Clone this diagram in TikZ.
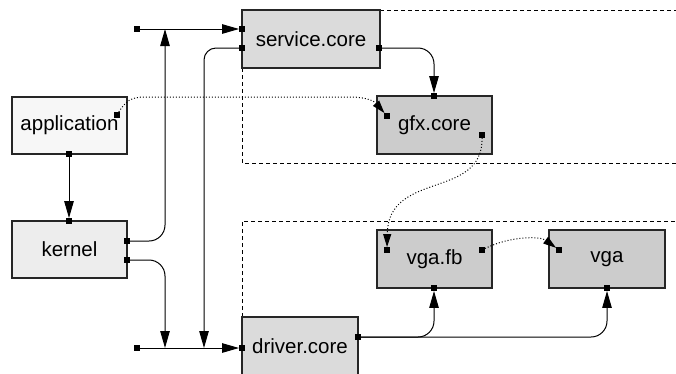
\documentclass[tikz,border=0pt]{standalone}
\usepackage{fontspec}
\setmainfont{Liberation Sans}
\usetikzlibrary{arrows.meta}
\begin{document}
\begin{tikzpicture}[x=1pt,y=-1pt,
  box/.style={draw=black!85,line width=1.5pt,minimum width=115pt,minimum height=57pt,inner sep=0pt,font=\fontsize{20.5}{24}\selectfont},
  port/.style={fill=black,inner sep=0pt,minimum size=5.5pt},
  conn/.style={line width=1pt,-{Triangle[length=17pt,width=9.5pt]}},
  dots/.style={line width=1pt,dotted,-{Triangle[length=13pt,width=8pt]}},
  region/.style={line width=0.9pt,dash pattern=on 4pt off 3pt}]
\useasboundingbox (0,0) rectangle (676,373);
% regions
\coordinate (r1a) at (380,10); \coordinate (r1b) at (676,10);
\coordinate (r1c) at (242,68); \coordinate (r1d) at (242,163); \coordinate (r1e) at (676,163);
\coordinate (r2a) at (242,317); \coordinate (r2b) at (242,221); \coordinate (r2c) at (676,221);
\draw[region] (r1a) -- (r1b);
\draw[region] (r1c) -- (r1d) -- (r1e);
\draw[region] (r2a) -- (r2b) -- (r2c);
% boxes
\node[box,fill=black!3] (app) at (69.5,125.5) {application};
\node[box,fill=black!7] (ker) at (69.5,249.5) {kernel};
\node[box,fill=black!14,minimum width=138pt,minimum height=58pt] (svc) at (311,39) {service.core};
\node[box,fill=black!20,minimum height=58pt] (gfx) at (434.5,125) {gfx.core};
\node[box,fill=black!20,minimum height=58pt] (vfb) at (434.5,259) {vga.fb};
\node[box,fill=black!20,minimum width=116pt,minimum height=58pt] (vga) at (607,259) {vga};
\node[box,fill=black!14,minimum width=116pt,minimum height=58pt] (drv) at (300,346) {driver.core};
% ports
\node[port] (b1) at (137,29) {};
\node[port] (s1) at (242,29) {};
\node[port] (s2) at (242,48) {};
\node[port] (s3) at (379,48) {};
\node[port] (a1) at (117,115) {};
\node[port] (a2) at (69,154) {};
\node[port] (k0) at (69,221) {};
\node[port] (k1) at (127,241) {};
\node[port] (k2) at (127,260) {};
\node[port] (g0) at (434,96) {};
\node[port] (g1) at (387,116) {};
\node[port] (g2) at (482,135) {};
\node[port] (f1) at (387,250) {};
\node[port] (f2) at (482,250) {};
\node[port] (f3) at (434,288) {};
\node[port] (v1) at (559,250) {};
\node[port] (v2) at (607,288) {};
\node[port] (b2) at (137,348) {};
\node[port] (d1) at (242,348) {};
\node[port] (d2) at (358,337) {};
% bus junctions
\coordinate (j1) at (165,29);
\coordinate (j2) at (165,348);
\coordinate (j3) at (204,348);
% connectors
\draw[conn] (b1) -- (s1);
\draw[conn] (b2) -- (d1);
\draw[conn] (a2) -- (k0);
\draw[conn,rounded corners=16pt] (k1) -| (j1);
\draw[conn,rounded corners=16pt] (k2) -| (j2);
\draw[conn,rounded corners=12pt] (s2) -| (j3);
\draw[conn,rounded corners=16pt] (s3) -| (g0);
\draw[conn,rounded corners=16pt] (d2) -| (f3);
\draw[conn,rounded corners=16pt] (d2) -| (v2);
\draw[dots] (a1) .. controls (128,97) and (135,97) .. (150,97) -- (350,97) .. controls (368,97) and (375,102) .. (g1);
\draw[dots] (g2) .. controls (483,200) and (388,170) .. (f1);
\draw[dots] (f2) .. controls (510,236) and (540,236) .. (v1);
\end{tikzpicture}
\end{document}
